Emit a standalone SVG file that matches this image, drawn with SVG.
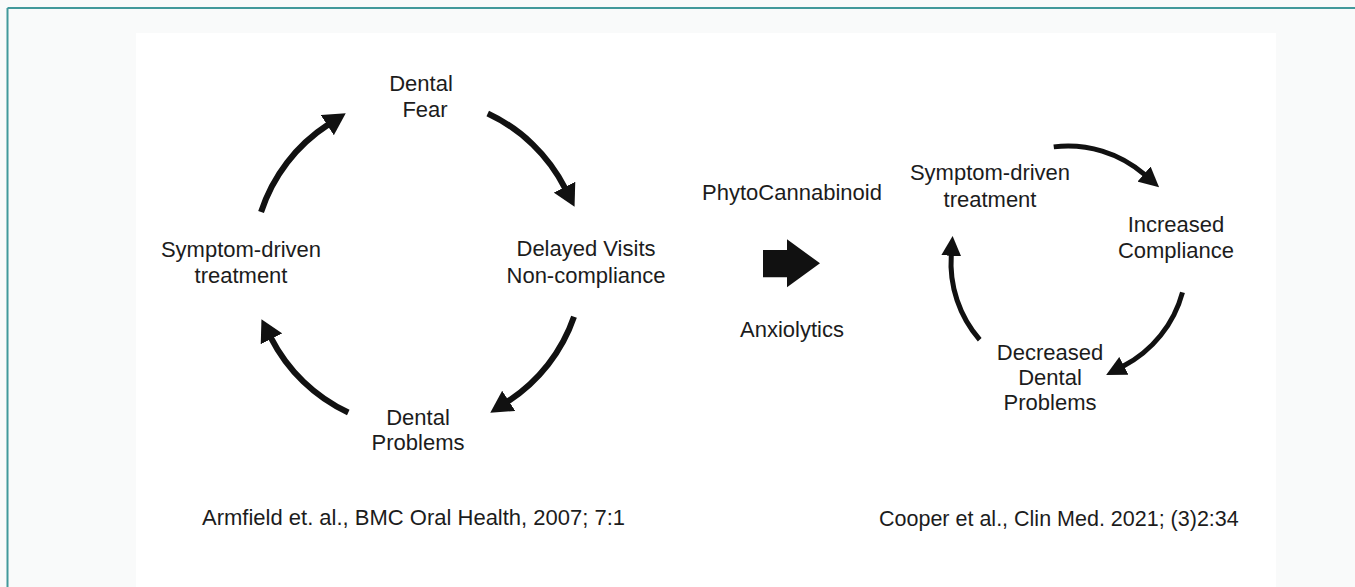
<svg xmlns="http://www.w3.org/2000/svg" width="1355" height="587" viewBox="0 0 1355 587">
  <style>
    text { font-family: "Liberation Sans", Arial, sans-serif; font-size: 22px; fill: #1c1c1c; text-anchor: middle; }
    .cite { text-anchor: start; }
    .arcL { fill: none; stroke: #111; stroke-width: 6; marker-end: url(#headL); }
    .arcR { fill: none; stroke: #111; stroke-width: 5; marker-end: url(#headR); }
  </style>
  <defs>
    <marker id="headL" markerUnits="userSpaceOnUse" viewBox="0 -12 22 24" markerWidth="22" markerHeight="24" refX="1" refY="0" orient="auto">
      <path d="M0,-12 L22,0 L0,12 z" fill="#111"/>
    </marker>
    <marker id="headR" markerUnits="userSpaceOnUse" viewBox="0 -10 20 20" markerWidth="20" markerHeight="20" refX="1" refY="0" orient="auto">
      <path d="M0,-10 L20,0 L0,10 z" fill="#111"/>
    </marker>
  </defs>

  <rect x="0" y="0" width="1355" height="587" fill="#f9fafa"/>
  <rect x="136" y="33" width="1140" height="554" fill="#ffffff"/>
  <line x1="7.5" y1="8" x2="1355" y2="8" stroke="#42999b" stroke-width="2"/>
  <line x1="7.5" y1="8" x2="7.5" y2="587" stroke="#42999b" stroke-width="2"/>

  <g id="connectors">
    <path class="arcL" d="M261.07 212.01 A165 165 0 0 1 328.13 124.62"/>
    <path class="arcL" d="M487.73 113.46 A165 165 0 0 1 565.02 188.09"/>
    <path class="arcL" d="M574.01 316.72 A165 165 0 0 1 507.87 401.38"/>
    <path class="arcL" d="M348.27 412.54 A165 165 0 0 1 270.98 337.91"/>
    <path class="arcR" d="M1053.74 146.87 A117 117 0 0 1 1144.76 174.70"/>
    <path class="arcR" d="M1182.5 292.3 A118 118 0 0 1 1123.0 366.3"/>
    <path class="arcR" d="M979.70 339.76 A117 117 0 0 1 951.29 254.84"/>
    <polygon id="bigArrow" points="763,250 787,250 787,239.3 820,263.3 787,287.3 787,277.3 763,277.3" fill="#111"/>
  </g>

  <g id="node-dental-fear">
    <text x="421" y="91">Dental</text>
    <text x="425" y="117">Fear</text>
  </g>
  <g id="node-delayed-visits">
    <text x="586" y="256">Delayed Visits</text>
    <text x="586" y="283">Non-compliance</text>
  </g>
  <g id="node-dental-problems">
    <text x="418" y="425">Dental</text>
    <text x="418" y="450">Problems</text>
  </g>
  <g id="node-symptom-left">
    <text x="241" y="257">Symptom-driven</text>
    <text x="241" y="283">treatment</text>
  </g>

  <g id="node-phyto">
    <text x="792" y="200">PhytoCannabinoid</text>
  </g>
  <g id="node-anxiolytics">
    <text x="792" y="337">Anxiolytics</text>
  </g>

  <g id="node-symptom-right">
    <text x="990" y="180">Symptom-driven</text>
    <text x="990" y="207">treatment</text>
  </g>
  <g id="node-increased-compliance">
    <text x="1176" y="232">Increased</text>
    <text x="1176" y="258">Compliance</text>
  </g>
  <g id="node-decreased-problems">
    <text x="1050" y="360">Decreased</text>
    <text x="1050" y="385">Dental</text>
    <text x="1050" y="410">Problems</text>
  </g>

  <g id="citation-left">
    <text class="cite" x="202" y="525">Armfield et. al., BMC Oral Health, 2007; 7:1</text>
  </g>
  <g id="citation-right">
    <text class="cite" x="879" y="526" style="font-size:21.5px">Cooper et al., Clin Med. 2021; (3)2:34</text>
  </g>
</svg>
